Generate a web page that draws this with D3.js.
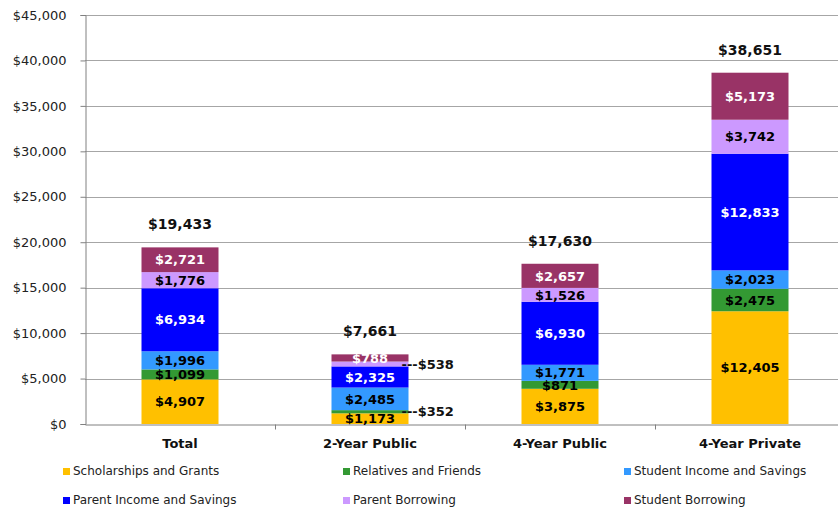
<!DOCTYPE html>
<html>
<head>
<meta charset="utf-8">
<script src="https://cdn.jsdelivr.net/npm/d3@7"></script>
<style>
  body { margin: 0; background: #fff; }
  svg { display: block; font-family: "DejaVu Sans", Verdana, sans-serif; }
</style>
</head>
<body>
<div id="chart"></div>
<script>
// categories and series
const categories = ["Total", "2-Year Public", "4-Year Public", "4-Year Private"];
const seriesNames = ["Scholarships and Grants", "Relatives and Friends", "Student Income and Savings",
  "Parent Income and Savings", "Parent Borrowing", "Student Borrowing"];
const seriesColors = ["#FFC000", "#339933", "#3399FF", "#0000FF", "#CC99FF", "#993366"];
const labelColors = ["#000", "#000", "#000", "#fff", "#000", "#fff"];

const scholarships = [4907, 1173, 3875, 12405];
const relatives = [1099, 352, 871, 2475];
const studentIncome = [1996, 2485, 1771, 2023];
const parentIncome = [6934, 2325, 6930, 12833];
const parentBorrowing = [1776, 538, 1526, 3742];
const studentBorrowing = [2721, 788, 2657, 5173];
const yTicks = [0, 5000, 10000, 15000, 20000, 25000, 30000, 35000, 40000, 45000];

const width = 838, height = 508;
const margin = {top: 15, left: 85, bottom: 84};
const plotRight = 845; // plot runs a little past the window edge

const table = categories.map((c, i) => ({
  cat: c,
  s0: scholarships[i], s1: relatives[i], s2: studentIncome[i],
  s3: parentIncome[i], s4: parentBorrowing[i], s5: studentBorrowing[i]
}));
const keys = ["s0", "s1", "s2", "s3", "s4", "s5"];
const stacked = d3.stack().keys(keys)(table);

const svg = d3.select("#chart").append("svg")
  .attr("width", width).attr("height", height);

const x = d3.scaleBand().domain(categories)
  .range([margin.left, plotRight]).paddingInner(0).paddingOuter(0);
const y = d3.scaleLinear().domain([0, 45000]).range([height - margin.bottom, margin.top]);
const barW = 77;

// gridlines
svg.append("g").selectAll("line").data(yTicks.slice(1)).join("line")
  .attr("x1", margin.left).attr("x2", width)
  .attr("y1", d => Math.round(y(d)) + 0.5).attr("y2", d => Math.round(y(d)) + 0.5)
  .attr("stroke", "#a6a6a6").attr("stroke-width", 1);

// y axis
const yAxis = svg.append("g")
  .attr("transform", `translate(${margin.left + 0.5},0)`)
  .call(d3.axisLeft(y).tickValues(yTicks).tickSize(5).tickPadding(14)
    .tickFormat(d => "$" + d3.format(",")(d)));
yAxis.select(".domain").attr("stroke", "#808080");
yAxis.selectAll(".tick line").attr("stroke", "#808080");
yAxis.selectAll("text").attr("font-size", 13).attr("fill", "#222")
  .attr("font-family", "DejaVu Sans, sans-serif");

// bars
const layer = svg.append("g").selectAll("g").data(stacked).join("g")
  .attr("fill", (d, i) => seriesColors[i]);
layer.selectAll("rect").data(d => d).join("rect")
  .attr("x", d => x.bandwidth() / 2 + x(d.data.cat) - barW / 2)
  .attr("width", barW)
  .attr("y", d => y(d[1]))
  .attr("height", d => y(d[0]) - y(d[1]));

// x axis
const xAxis = svg.append("g")
  .attr("transform", `translate(0,${Math.round(y(0)) + 0.5})`)
  .call(d3.axisBottom(x).tickSize(0).tickPadding(14));
xAxis.select(".domain").attr("stroke", "#808080");
xAxis.selectAll("text").attr("font-size", 13).attr("font-weight", "bold")
  .attr("fill", "#111").attr("font-family", "DejaVu Sans, sans-serif");
xAxis.append("g").selectAll("line").data(d3.range(1, categories.length)).join("line")
  .attr("x1", i => margin.left + i * x.step() + 0.5).attr("x2", i => margin.left + i * x.step() + 0.5)
  .attr("y1", 0).attr("y2", 5).attr("stroke", "#808080");

// segment labels
const fmt = d => "$" + d3.format(",")(d);
stacked.forEach((s, si) => {
  s.forEach(d => {
    const v = d[1] - d[0];
    const cx = x(d.data.cat) + x.bandwidth() / 2;
    const cy = (y(d[0]) + y(d[1])) / 2;
    if (y(d[0]) - y(d[1]) < 6) {
      // thin slice: label off to the right with a leader of dashes
      svg.append("text")
        .attr("x", cx + barW / 2 - 7).attr("y", cy).attr("dy", "0.36em")
        .attr("font-size", 13).attr("font-weight", "bold").attr("fill", "#111")
        .text("---" + fmt(v));
    } else {
      svg.append("text")
        .attr("x", cx).attr("y", cy).attr("dy", "0.36em")
        .attr("text-anchor", "middle")
        .attr("font-size", 13).attr("font-weight", "bold")
        .attr("fill", labelColors[si])
        .text(fmt(v));
    }
  });
});

// totals on top
table.forEach(d => {
  const total = keys.reduce((a, k) => a + d[k], 0);
  svg.append("text")
    .attr("x", x(d.cat) + x.bandwidth() / 2)
    .attr("y", y(total) - 18)
    .attr("text-anchor", "middle")
    .attr("font-size", 14).attr("font-weight", "bold").attr("fill", "#111")
    .text(fmt(total));
});

// legend
const legendCols = [63, 343, 624];
const legendRows = [471, 500];
const legend = svg.append("g").selectAll("g").data(seriesNames).join("g")
  .attr("transform", (d, i) => `translate(${legendCols[i % 3]},${legendRows[Math.floor(i / 3)]})`);
legend.append("rect").attr("x", 0).attr("y", -3).attr("width", 7).attr("height", 7)
  .attr("fill", (d, i) => seriesColors[i]);
legend.append("text").attr("x", 10).attr("y", 0).attr("dy", "0.36em")
  .attr("font-size", 12).attr("fill", "#222")
  .text(d => d);
</script>
</body>
</html>
